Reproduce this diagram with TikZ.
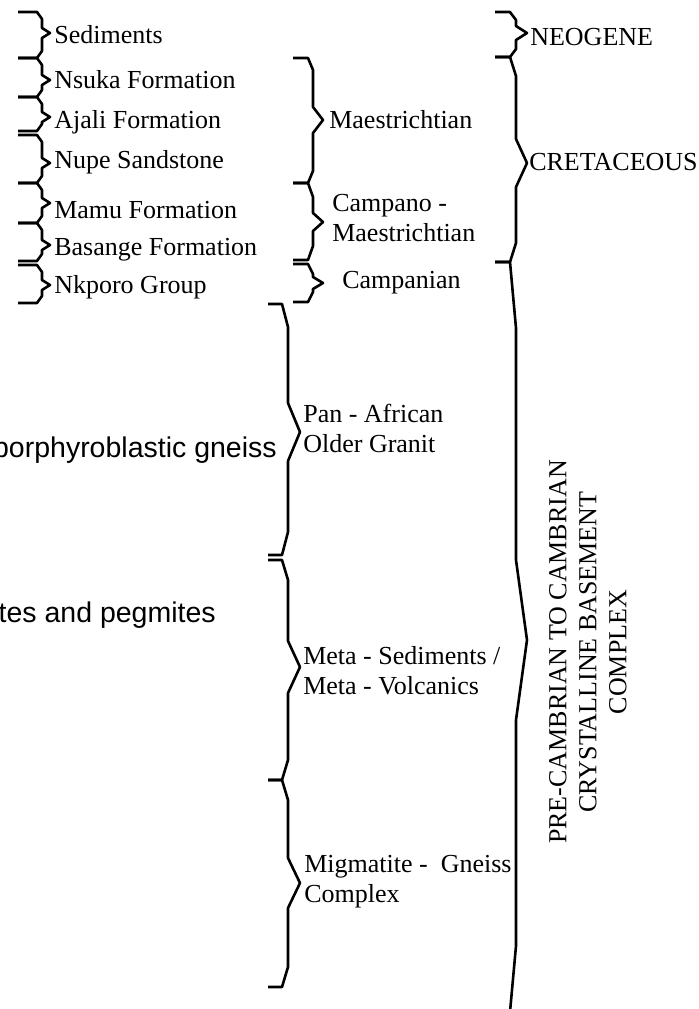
\documentclass[tikz,border=0pt]{standalone}
\usepackage{fontspec}
\setmainfont{Liberation Serif}
\newfontfamily\arialfont{Liberation Sans}
\begin{document}
\begin{tikzpicture}[x=0.5pt, y=-0.5pt, line width=1.3pt, line join=round,
  lbl/.style={inner sep=0pt, anchor=base west, font=\fontsize{13}{15}\selectfont},
  lbltwo/.style={inner sep=0pt, anchor=west, align=left, font=\fontsize{13}{15}\selectfont},
  rocklbl/.style={inner sep=0pt, anchor=base east, font=\arialfont\fontsize{14.25}{17}\selectfont}]
\useasboundingbox (0,0) rectangle (699,1009);
\clip (0,0) rectangle (699,1009);
\foreach \ya/\yb/\yc in {12/33/58, 58/80/97, 97/117/131, 135/163/183, 183/203/223, 223/245/261, 265/285/303}
  \draw (18,\ya) -- (37,\ya) -- (42,\ya+7) -- (42,\yb-5) -- (50,\yb) -- (42,\yb+5) -- (42,\yc-7) -- (37,\yc) -- (18,\yc);
\foreach \ya/\yb/\yc/\e/\t in {58/120/183/12/13, 183/222/260/14/9, 264/283/302/10/6}
  \draw (293,\ya) -- (308,\ya) -- (313,\ya+\e) -- (313,\yb-\t) -- (323,\yb) -- (313,\yb+\t) -- (313,\yc-\e) -- (308,\yc) -- (293,\yc);
\foreach \ya/\yb/\yc/\e/\t in {304/432/555/23/29, 560/667/780/20/26, 780/883/987/20/25}
  \draw (268,\ya) -- (282,\ya) -- (288,\ya+\e) -- (288,\yb-\t) -- (300,\yb) -- (288,\yb+\t) -- (288,\yc-\e) -- (282,\yc) -- (268,\yc);
\foreach \ya/\yb/\yc/\e/\t in {12/33/57/8/7, 57/163/262/19/24, 262/640/1012/66/80}
  \draw (495,\ya) -- (510,\ya) -- (516,\ya+\e) -- (516,\yb-\t) -- (527,\yb) -- (516,\yb+\t) -- (516,\yc-\e) -- (510,\yc) -- (495,\yc);
\node[lbl] (sed) at (53,43) {Sediments};
\node[lbl] (nsu) at (53,88) {Nsuka Formation};
\node[lbl] (aja) at (53,128) {Ajali Formation};
\node[lbl] (nup) at (53,168) {Nupe Sandstone};
\node[lbl] (mam) at (53,218) {Mamu Formation};
\node[lbl] (bas) at (53,255) {Basange Formation};
\node[lbl] (nkp) at (53,293) {Nkporo Group};
\node[lbl] (mae) at (328,128) {Maestrichtian};
\node[lbltwo] (cmm) at (331,218) {Campano -\\Maestrichtian};
\node[lbl] (cmp) at (341,288) {Campanian};
\node[lbltwo] (pan) at (302,428) {Pan - African\\Older Granit};
\node[lbltwo] (met) at (302,671) {Meta - Sediments /\\Meta - Volcanics};
\node[lbltwo] (mig) at (303,882) {Migmatite -~~Gneiss\\Complex};
\node[lbl] (neo) at (529,45) {NEOGENE};
\node[lbl] (cre) at (528,170) {CRETACEOUS};
\node[lbltwo, anchor=center, align=center, rotate=90] (pre) at (588,652) {PRE-CAMBRIAN TO CAMBRIAN\\CRYSTALLINE BASEMENT\\COMPLEX};
\node[rocklbl] (gne) at (278,457) {porphyroblastic gneiss};
\node[rocklbl] (peg) at (217,622) {tes and pegmites};
\end{tikzpicture}
\end{document}
